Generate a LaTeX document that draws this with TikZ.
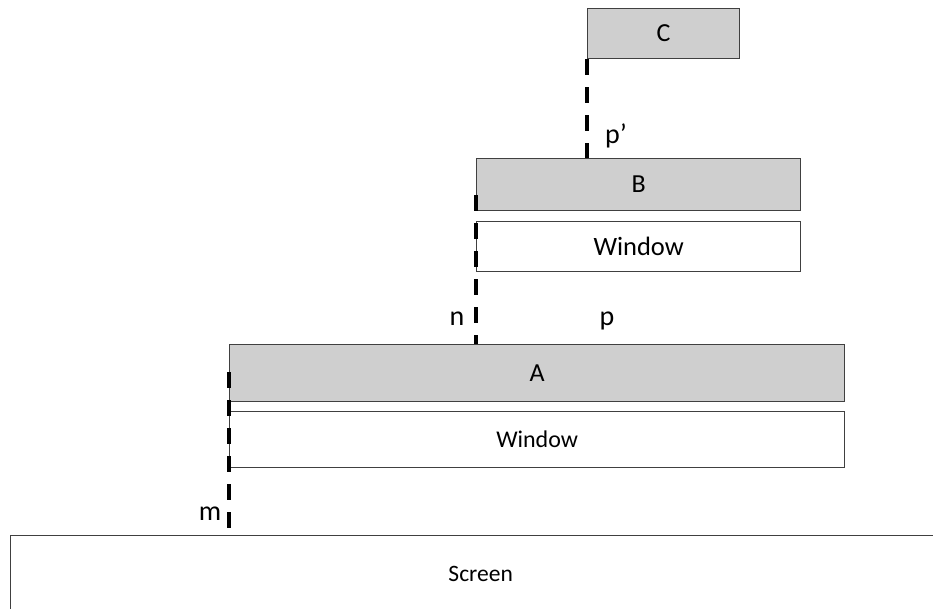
\documentclass[tikz,border=0pt]{standalone}
\usepackage{fontspec}
\setmainfont{Carlito}
\definecolor{boxgray}{HTML}{CFCFCF}
\definecolor{edge}{HTML}{404040}
\begin{document}
\begin{tikzpicture}[x=1pt,y=-1pt,
  box/.style={draw=edge,line width=1.3pt,anchor=north west,inner sep=0pt},
  layer/.style={box,fill=boxgray,font=\fontsize{26}{30}\selectfont},
  win/.style={box,fill=white},
  gap/.style={line width=4pt,dash pattern=on 16pt off 12pt},
  lbl/.style={font=\fontsize{28}{32}\selectfont,inner sep=0pt,anchor=base}]
\clip (0,0) rectangle (933,608);
\fill[white] (0,0) rectangle (933,608);
\node[layer,minimum width=152pt,minimum height=50pt] (C) at (587,8) {C};
\node[layer,minimum width=324pt,minimum height=52pt] (B) at (476,158) {B};
\node[win,minimum width=324pt,minimum height=50pt,font=\fontsize{26.5}{30}\selectfont] (WB) at (476,221) {Window};
\node[layer,minimum width=615pt,minimum height=57pt] (A) at (229,344) {A};
\node[win,minimum width=615pt,minimum height=56pt,font=\fontsize{24}{28}\selectfont] (WA) at (229,411) {Window};
\node[box,fill=white,minimum width=940pt,minimum height=76pt,font=\fontsize{23.5}{28}\selectfont] (S) at (10,535) {Screen};
\coordinate (nstart) at (476,195);
\coordinate (mstart) at (229,372);
\draw[gap] (C.south west) -- (C.south west |- B.north);
\draw[gap] (nstart) -- (nstart |- A.north);
\draw[gap] (mstart) -- (mstart |- S.north);
\node[lbl] (lp2) at (616,143) {p’};
\node[lbl] (ln) at (457,325) {n};
\node[lbl] (lp) at (607,325) {p};
\node[lbl] (lm) at (210,520) {m};
\end{tikzpicture}
\end{document}
